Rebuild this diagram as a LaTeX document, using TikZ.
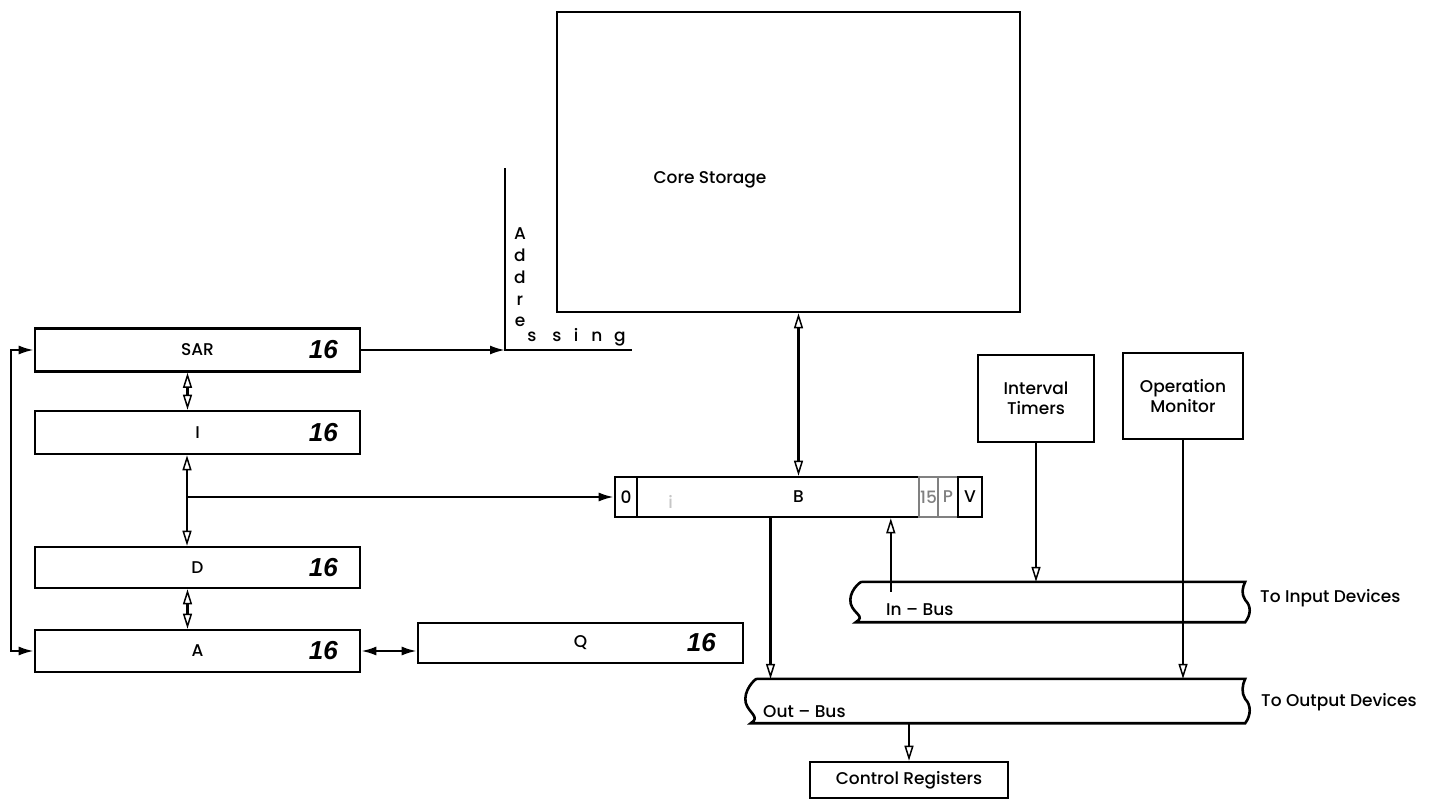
\documentclass[tikz,border=0pt]{standalone}
\usepackage{fontspec}
\setmainfont{Poppins}[UprightFont=* Medium, BoldFont=* SemiBold]
\newfontfamily\handfont{Liberation Sans}
\usetikzlibrary{arrows.meta,positioning,calc}
\newcommand\diagfont{\fontsize{17}{20}\selectfont}
\tikzset{
	unit/.style={draw, line width=2.6pt, align=center, inner sep=0pt, font=\diagfont},
	reg/.style={unit, minimum height=43pt, minimum width=325pt},
	cell/.style={unit, anchor=west, minimum height=40pt},
	busbox/.style={inner sep=0pt, minimum height=40pt},
	txt/.style={font=\diagfont, inner sep=0pt},
	bits/.style={font=\handfont\bfseries\itshape\fontsize{26}{28}\selectfont, inner sep=0pt},
	wire/.style={line width=2.2pt},
	opentip/.style={wire, -{Triangle[open, length=15pt, width=9pt, line width=1.5pt]}},
	openboth/.style={wire, {Triangle[open, length=15pt, width=9pt, line width=1.5pt]}-{Triangle[open, length=15pt, width=9pt, line width=1.5pt]}},
	solidtip/.style={wire, -{Latex[length=15pt, width=9pt]}},
	solidboth/.style={wire, {Latex[length=15pt, width=9pt]}-{Latex[length=15pt, width=9pt]}}
}
% bus outline with broken ends
\newcommand\busoutline[1]{%
	\draw[line width=2.6pt] ($(#1.north west)+(12,0)$) -- (#1.north east)
		.. controls +(-3,6) and +(-4,-6) .. ($(#1.east)+(0,-2)$)
		.. controls +(6,6) and +(6,-8) .. (#1.south east)
		-- ($(#1.south west)+(6,0)$)
		.. controls +(10,-6) and +(3,10) .. ($(#1.west)+(1,2)$)
		.. controls +(-3,-12) and +(-2,0) .. ($(#1.north west)+(12,0)$);}

\begin{document}
\begin{tikzpicture}[x=1pt, y=-1pt]
	\useasboundingbox (0,0) rectangle (1429,800);

	% storage
	\node[unit, minimum width=463pt, minimum height=300pt] (core) at (788.5,162) {};
	\node[txt] (corelbl) at (710,180) {Core Storage};

	% addressing
	\coordinate (addrtop) at (505,168);
	\coordinate (addr) at (505,350);
	\coordinate (addrend) at (632,350);
	\draw[wire] (addrtop) -- (addr) -- (addrend);
	\foreach \ch/\yy [count=\k] in {A/239,d/261,d/283,r/305,e/326}
		\node[txt, anchor=base] (addrv\k) at (520,\yy) {\ch};
	\foreach \ch/\xx [count=\k] in {s/532,s/557,i/576,n/597,g/620}
		\node[txt, anchor=base] (addrh\k) at (\xx,341) {\ch};

	% registers
	\node[reg] (sar) at (197.5,350) {SAR};
	\node[reg] (ireg) at (197.5,432.5) {I};
	\node[reg, minimum height=41pt] (dreg) at (197.5,567.5) {D};
	\node[reg, minimum height=42pt] (areg) at (197.5,651) {A};
	\node[reg, minimum height=40pt] (qreg) at (580.5,643) {Q};
	\foreach \r in {sar,ireg,dreg,areg}
		\node[bits] (\r bits) at ($(\r.east)+(-38,0)$) {16};
	\node[bits] (qbits) at ($(qreg.east)+(-43,0)$) {16};

	% B register
	\node[unit, minimum width=367pt, minimum height=40pt] (breg) at (798.5,497) {B};
	\node[cell, minimum width=22pt] (b0) at (breg.west) {0};
	\node[txt, text=gray!45] (bi) at ($(breg.west)+(57,5)$) {i};
	\node[cell, draw=gray, text=gray, minimum width=19pt] (b15) at ($(breg.west)+(304,0)$) {15};
	\node[cell, draw=gray, text=gray, minimum width=20pt] (bp) at ($(breg.west)+(323,0)$) {P};
	\node[cell, minimum width=24pt] (bv) at ($(breg.west)+(343,0)$) {V};

	% timers and monitor
	\node[unit, minimum width=116pt, minimum height=87pt] (timers) at (1036,398.5) {Interval\\Timers};
	\node[unit, minimum width=120pt, minimum height=86pt] (monitor) at (1183,396) {Operation\\Monitor};

	% buses
	\node[busbox, minimum width=395pt] (inbus) at (1047.5,602) {};
	\node[busbox, minimum width=500pt, minimum height=44pt] (outbus) at (995,701) {};
	\busoutline{inbus}
	\busoutline{outbus}
	\node[txt, anchor=base west] (inlbl) at (886,615) {In -- Bus};
	\node[txt, anchor=base west] (outlbl) at (763,717) {Out -- Bus};
	\node[txt, anchor=base west] (todevin) at (1260,602) {To Input Devices};
	\node[txt, anchor=base west] (todevout) at (1261,706) {To Output Devices};
	\node[unit, minimum width=198pt, minimum height=36pt] (ctrl) at (909,780) {Control Registers};

	% connections
	\coordinate (junc) at (187,497);
	\draw[solidtip] (sar.east) -- (addr);
	\draw[openboth] ($(sar.south)+(-10,0)$) -- ($(ireg.north)+(-10,0)$);
	\draw[opentip] (junc) -- (junc |- ireg.south);
	\draw[opentip] (junc) -- (junc |- dreg.north);
	\draw[solidtip] (junc) -- (b0.west);
	\draw[openboth] ($(dreg.south)+(-10,0)$) -- ($(areg.north)+(-10,0)$);
	\draw[solidboth] (sar.west) -- ++(-23,0) |- (areg.west);
	\draw[solidboth] (areg.east) -- (areg.east -| qreg.west);
	\draw[openboth] (breg.north |- core.south) -- (breg.north);
	\draw[opentip] ($(breg.south)+(-28,0)$) -- ($(breg.south |- outbus.north)+(-28,0)$);
	\draw[opentip] ($(inbus.north west)+(41,10)$) -- ($(inbus.north west |- breg.south)+(41,0)$);
	\draw[opentip] (timers.south) -- (timers.south |- inbus.north);
	\draw[opentip] (monitor.south) -- (monitor.south |- outbus.north);
	\draw[opentip] (ctrl.north |- outbus.south) -- (ctrl.north);
\end{tikzpicture}
\end{document}
